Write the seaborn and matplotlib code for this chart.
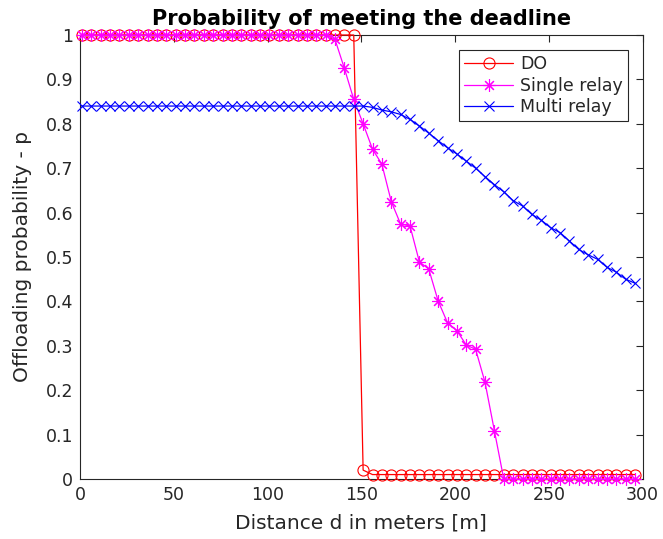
import numpy as np
import pandas as pd
import matplotlib
matplotlib.use("Agg")
import matplotlib.pyplot as plt
import seaborn as sns

# distances (m)
distance = np.arange(1, 297, 5)  # 1, 6, ..., 296 (60 points)

do_prob = [1.0] * 30 + [0.02] + [0.01] * 29

single_relay = [1.0] * 27 + [0.99, 0.925, 0.855, 0.80, 0.743, 0.709, 0.625, 0.574,
                             0.570, 0.489, 0.473, 0.401, 0.352, 0.334, 0.302, 0.292,
                             0.218, 0.109] + [0.0] * 15

multi_relay = [0.84] * 30 + [0.84, 0.837, 0.831, 0.827, 0.821, 0.810, 0.795, 0.779,
                             0.762, 0.746, 0.732, 0.716, 0.700, 0.681, 0.663, 0.647,
                             0.627, 0.615, 0.596, 0.583, 0.566, 0.555, 0.536, 0.517,
                             0.505, 0.495, 0.477, 0.466, 0.450, 0.441]

series_names = ["DO", "Single relay", "Multi relay"]
x_ticks = [0, 50, 100, 150, 200, 250, 300]
y_ticks = [0, 0.1, 0.2, 0.3, 0.4, 0.5, 0.6, 0.7, 0.8, 0.9, 1]
y_tick_labels = ["0", "0.1", "0.2", "0.3", "0.4", "0.5", "0.6", "0.7", "0.8", "0.9", "1"]

sns.set_style("white")
plt.rcParams["font.family"] = ["DejaVu Sans"]

fig = plt.figure(figsize=(6.63, 5.39), dpi=100)
ax = fig.add_axes([80 / 663, 1 - 479 / 539, (642.5 - 80) / 663, (479 - 35) / 539])

common = dict(ax=ax, linewidth=0.9, clip_on=False, zorder=3)
sns.lineplot(x=distance, y=do_prob, color="#ff0000", marker="o", markersize=8,
             markerfacecolor="none", markeredgecolor="#ff0000", markeredgewidth=0.8,
             label=series_names[0], **common)
sns.lineplot(x=distance, y=single_relay, color="#ff00ff", marker=(8, 2, 0), markersize=9,
             markeredgecolor="#ff00ff", markeredgewidth=0.8,
             label=series_names[1], **common)
sns.lineplot(x=distance, y=multi_relay, color="#0000ff", marker="x", markersize=7,
             markeredgecolor="#0000ff", markeredgewidth=0.8,
             label=series_names[2], **common)

ax.set_xlim(0, 300)
ax.set_ylim(0, 1)
ax.set_xticks(x_ticks)
ax.set_yticks(y_ticks)
ax.set_yticklabels(y_tick_labels)

axis_col = "#262626"
for s in ax.spines.values():
    s.set_visible(True)
    s.set_color(axis_col)
    s.set_linewidth(0.8)
ax.tick_params(direction="in", length=5, width=0.8, color=axis_col,
               top=True, right=True, labelsize=12.5, labelcolor=axis_col, pad=5)

ax.set_xlabel("Distance d in meters [m]", fontsize=14.5, color=axis_col, labelpad=7)
ax.set_ylabel("Offloading probability - p", fontsize=14.5, color=axis_col, labelpad=10)
ax.set_title("Probability of meeting the deadline", fontsize=15, fontweight="bold",
             color="black", pad=7)

leg = ax.legend(loc="upper right", bbox_to_anchor=(0.974, 0.966), borderaxespad=0,
                fontsize=12.5, frameon=True, fancybox=False, framealpha=1,
                edgecolor=axis_col, handlelength=2.8, borderpad=0.3,
                labelspacing=0.2, handletextpad=0.4)
leg.get_frame().set_linewidth(0.8)

fig.savefig("out.png", dpi=100)
